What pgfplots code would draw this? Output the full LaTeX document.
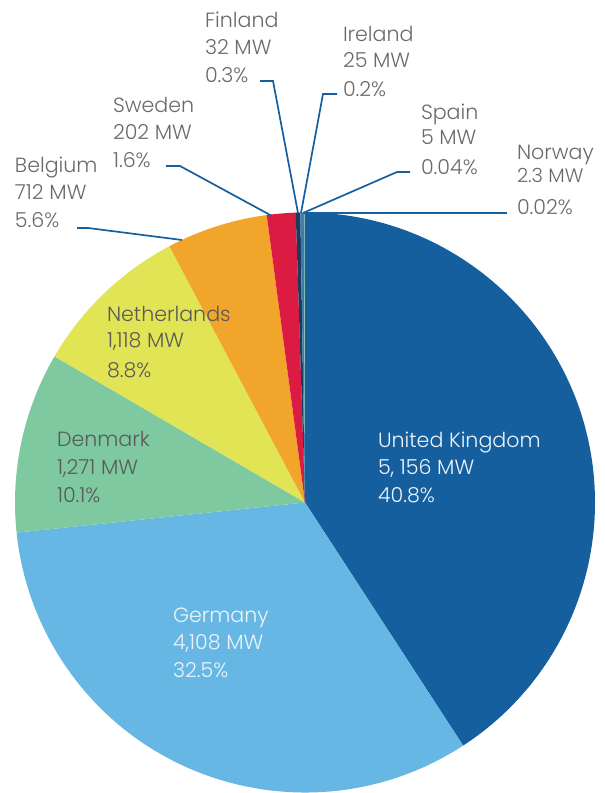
\documentclass[border=0pt]{standalone}
\usepackage{pgfplots}
\pgfplotsset{compat=1.18}
\usepackage{pgfplotstable}
\usepackage{fontspec}
\IfFontExistsTF{Poppins Light}{\setmainfont{Poppins Light}}{\setmainfont{Poppins}}

\definecolor{c0}{HTML}{155F9E}
\definecolor{c1}{HTML}{67B7E4}
\definecolor{c2}{HTML}{7EC9A0}
\definecolor{c3}{HTML}{E1E455}
\definecolor{c4}{HTML}{F1A52B}
\definecolor{c5}{HTML}{DB1B42}
\definecolor{c6}{HTML}{1C3A5E}
\definecolor{c7}{HTML}{3D7CA8}
\definecolor{c8}{HTML}{8DC9A8}
\definecolor{c9}{HTML}{2E6FA8}
\definecolor{leader}{HTML}{1560A0}
\definecolor{txt}{HTML}{6A6A6A}
\definecolor{intxt}{HTML}{5A5A5A}
\definecolor{wtxt}{HTML}{EEF4FA}

% capacity in MW, clockwise from the top
\pgfplotstableread{
idx name mw
0 UnitedKingdom 5156
1 Germany 4108
2 Denmark 1271
3 Netherlands 1118
4 Belgium 712
5 Sweden 202
6 Finland 32
7 Ireland 25
8 Spain 5
9 Norway 2.3
}\piedata

\xdef\total{0}
\pgfplotsforeachungrouped \i in {0,...,9}{%
  \pgfplotstablegetelem{\i}{mw}\of\piedata
  \xdef\total{\fpeval{\total+\pgfplotsretval}}%
}
\xdef\cur{90}
\pgfplotsforeachungrouped \i in {0,...,9}{%
  \pgfplotstablegetelem{\i}{mw}\of\piedata
  \expandafter\xdef\csname pa\i\endcsname{\cur}%
  \xdef\cur{\fpeval{\cur-360*\pgfplotsretval/\total}}%
}
\expandafter\xdef\csname pa10\endcsname{\cur}

\def\cx{305}
\def\cy{290.5}
\def\rr{290}

\begin{document}
\begin{tikzpicture}[lab/.style={font=\fontsize{20.6}{24}\selectfont, anchor=base west, inner sep=0pt, outer sep=0pt}]
\begin{axis}[
  width=605pt, height=793pt, scale only axis,
  xmin=0, xmax=605, ymin=0, ymax=793,
  enlargelimits=false, hide axis, clip=false,
]
\pgfplotsinvokeforeach{0,...,9}{
  \fill[c#1] (axis cs:\cx,\cy) --
    (axis cs:{\cx+\rr*cos(\csname pa#1\endcsname)},{\cy+\rr*sin(\csname pa#1\endcsname)})
    arc[start angle=\csname pa#1\endcsname, end angle=\csname pa\the\numexpr#1+1\relax\endcsname, radius=290pt] -- cycle;
}
% leader lines
\draw[leader, line width=1.7pt] (axis cs:260,712) -- (axis cs:273,712) -- (axis cs:298,580);
\draw[leader, line width=1.7pt] (axis cs:166,627) -- (axis cs:180,627) -- (axis cs:272,577);
\draw[leader, line width=1.7pt] (axis cs:77,565) -- (axis cs:88,565) -- (axis cs:182,553);
\draw[leader, line width=1.7pt] (axis cs:337,699) -- (axis cs:323,699) -- (axis cs:301,580);
\draw[leader, line width=1.7pt] (axis cs:410,621) -- (axis cs:397,621) -- (axis cs:303,580);
\draw[leader, line width=1.7pt] (axis cs:303,580) -- (axis cs:507,580);

% outside labels
\node[lab, txt] at (axis cs:205,765) {Finland};
\node[lab, txt] at (axis cs:205,738) {32 MW};
\node[lab, txt] at (axis cs:205,710) {0.3\%};

\node[lab, txt] at (axis cs:113,680) {Sweden};
\node[lab, txt] at (axis cs:113,653) {202 MW};
\node[lab, txt] at (axis cs:113,625) {1.6\%};

\node[lab, txt] at (axis cs:15,620) {Belgium};
\node[lab, txt] at (axis cs:15,593) {712 MW};
\node[lab, txt] at (axis cs:15,565) {5.6\%};

\node[lab, txt] at (axis cs:343,751) {Ireland};
\node[lab, txt] at (axis cs:343,725) {25 MW};
\node[lab, txt] at (axis cs:343,696) {0.2\%};

\node[lab, txt] at (axis cs:421,673) {Spain};
\node[lab, txt] at (axis cs:421,648) {5 MW};
\node[lab, txt] at (axis cs:421,618) {0.04\%};

\node[lab, txt] at (axis cs:517,633) {Norway};
\node[lab, txt, font=\fontsize{19.5}{22}\selectfont] at (axis cs:517,610) {2.3 MW};
\node[lab, txt] at (axis cs:517,578) {0.02\%};

% inside labels
\node[lab, wtxt] at (axis cs:378,345) {United Kingdom};
\node[lab, wtxt] at (axis cs:378,318) {5, 156 MW};
\node[lab, wtxt] at (axis cs:378,290) {40.8\%};

\node[lab, wtxt] at (axis cs:173,170) {Germany};
\node[lab, wtxt] at (axis cs:173,143) {4,108 MW};
\node[lab, wtxt] at (axis cs:173,115) {32.5\%};

\node[lab, intxt] at (axis cs:57,346) {Denmark};
\node[lab, intxt] at (axis cs:57,318) {1,271 MW};
\node[lab, intxt] at (axis cs:57,290) {10.1\%};

\node[lab, intxt] at (axis cs:107,471) {Netherlands};
\node[lab, intxt] at (axis cs:107,445) {1,118 MW};
\node[lab, intxt] at (axis cs:107,415) {8.8\%};
\end{axis}
\pgfresetboundingbox
\useasboundingbox (current axis.south west) rectangle (current axis.north east);
\end{tikzpicture}
\end{document}
